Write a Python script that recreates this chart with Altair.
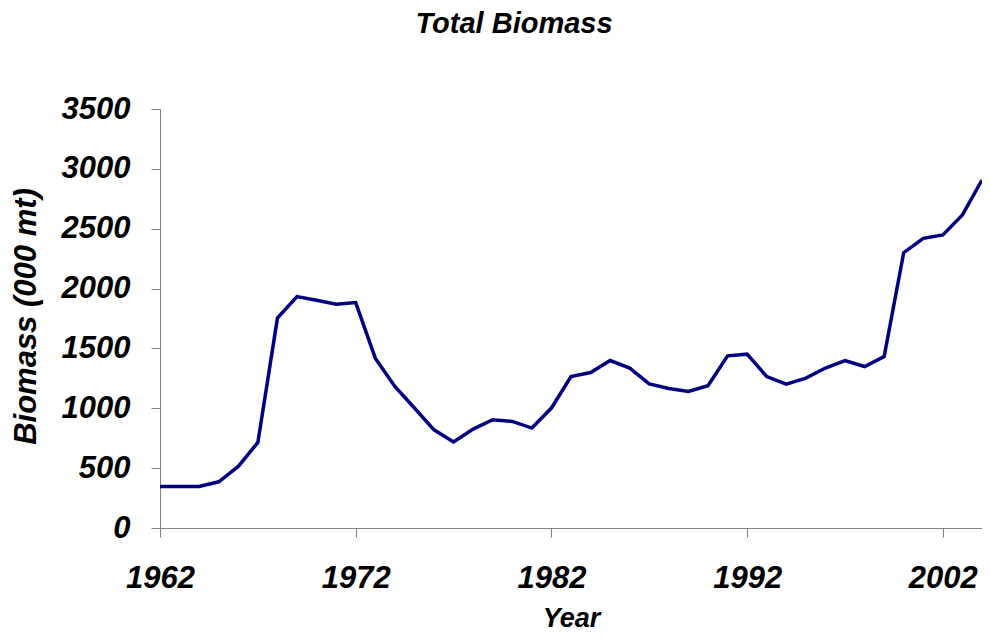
import altair as alt
import pandas as pd

years = [1962, 1963, 1964, 1965, 1966, 1967, 1968, 1969, 1970, 1971,
         1972, 1973, 1974, 1975, 1976, 1977, 1978, 1979, 1980, 1981,
         1982, 1983, 1984, 1985, 1986, 1987, 1988, 1989, 1990, 1991,
         1992, 1993, 1994, 1995, 1996, 1997, 1998, 1999, 2000, 2001,
         2002, 2003, 2004]
biomass = [347, 347, 347, 386, 514, 715, 1753, 1933, 1903, 1870,
           1883, 1419, 1182, 1002, 820, 718, 826, 904, 890, 835,
           1002, 1265, 1299, 1399, 1336, 1204, 1165, 1140, 1188, 1438,
           1452, 1265, 1202, 1252, 1336, 1399, 1349, 1432, 2300, 2420,
           2448, 2615, 2907]
x_ticks = [1962, 1972, 1982, 1992, 2002]
y_ticks = [0, 500, 1000, 1500, 2000, 2500, 3000, 3500]

df = pd.DataFrame({"Year": years, "Biomass": biomass})

FONT = "Liberation Sans"

chart = alt.Chart(df).mark_line(color="#000080", strokeWidth=3.5, clip=True).encode(
    x=alt.X("Year:Q",
            scale=alt.Scale(domain=[1962, 2004], nice=False, zero=False),
            axis=alt.Axis(values=x_ticks, format="d", title="Year",
                          labelFontSize=31, labelPadding=26, tickSize=9,
                          labelFlush=False,
                          titleFontSize=27, titleBaseline="alphabetic",
                          titleY=98)),
    y=alt.Y("Biomass:Q",
            scale=alt.Scale(domain=[0, 3500], nice=False),
            axis=alt.Axis(values=y_ticks, format="d", title="Biomass (000 mt)",
                          labelFontSize=31, labelPadding=21, tickSize=9,
                          labelFlush=False,
                          titleFontSize=31, titleX=-118, titleY=207)),
).properties(
    width=822,
    height=419,
    title=alt.TitleParams("Total Biomass", font=FONT, fontSize=29,
                          fontWeight="bold", fontStyle="italic",
                          anchor="middle", dx=-57, offset=54, color="black"),
    autosize=alt.AutoSizeParams(type="none"),
    padding={"left": 152, "top": 101, "right": 0, "bottom": 104},
).configure_view(
    stroke=None
).configure_axis(
    grid=False,
    domainColor="#808080",
    tickColor="#808080",
    labelFont=FONT,
    labelFontWeight="bold",
    labelFontStyle="italic",
    labelColor="black",
    titleFont=FONT,
    titleFontWeight="bold",
    titleFontStyle="italic",
    titleColor="black",
)

chart.save("out.html", embed_options={"renderer": "svg", "actions": False})
